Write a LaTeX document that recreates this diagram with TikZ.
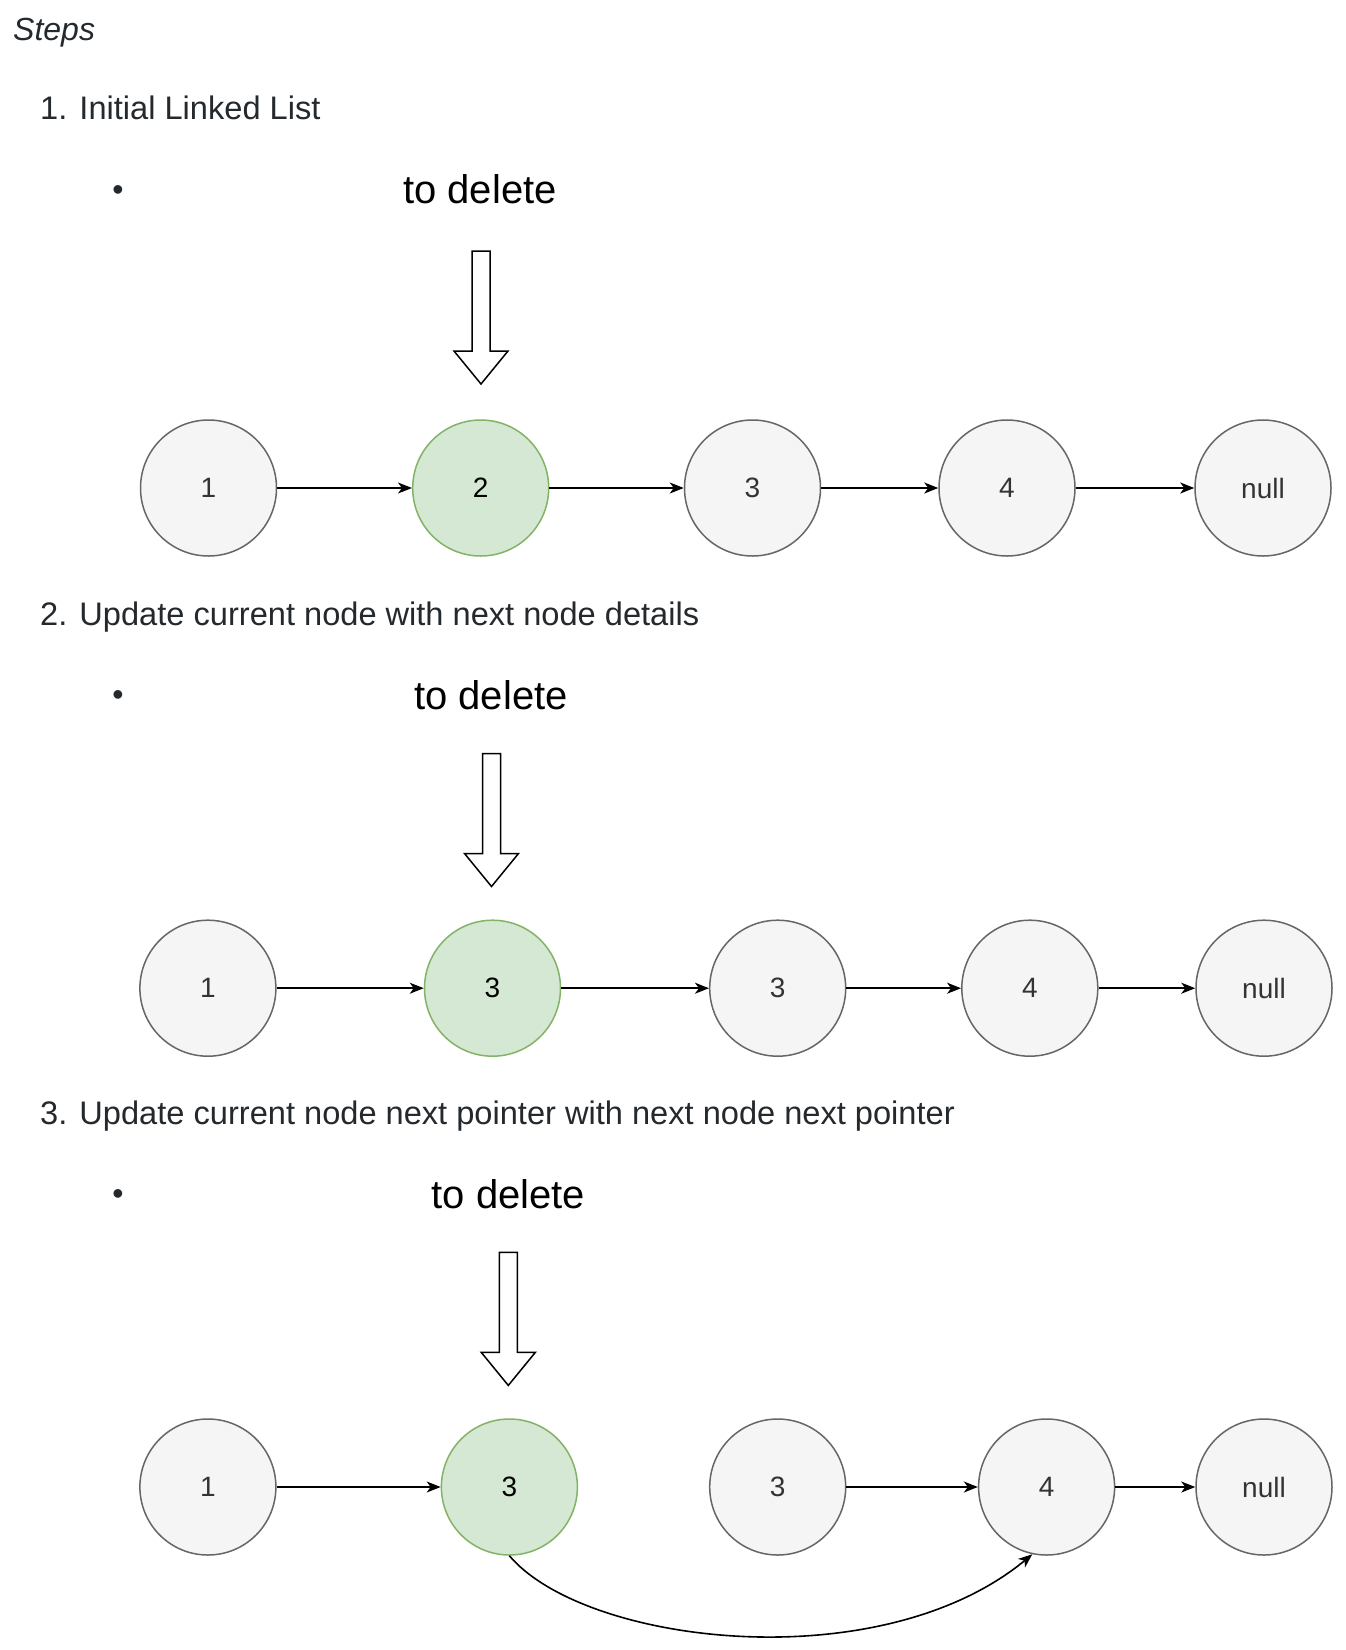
\documentclass[tikz,border=0pt]{standalone}
\usepackage{fontspec}
\setmainfont{Liberation Sans}
\usetikzlibrary{arrows.meta}
\definecolor{txt}{HTML}{24292E}
\definecolor{grayfill}{HTML}{F5F5F5}
\definecolor{graystroke}{HTML}{666666}
\definecolor{grayfont}{HTML}{333333}
\definecolor{greenfill}{HTML}{D5E8D4}
\definecolor{greenstroke}{HTML}{82B366}
\tikzset{
 heading/.style={anchor=base west, inner sep=0, text=txt, font=\fontsize{32.6}{38}\selectfont},
 bulletmark/.style={anchor=base, inner sep=0, text=txt, font=\fontsize{32}{38}\selectfont},
 deltext/.style={anchor=base, inner sep=0, text=black, font=\fontsize{40}{48}\selectfont},
 lnode/.style={circle, draw=graystroke, fill=grayfill, text=grayfont, line width=1.5, minimum size=136, inner sep=0, font=\fontsize{28}{34}\selectfont},
 gnode/.style={lnode, draw=greenstroke, fill=greenfill, text=black},
 link/.style={-{Stealth[length=14,width=11,inset=4]}, line width=1.6, black},
 bigarrow/.style={draw=black, line width=1.5, fill=white, line join=miter},
 bigdown/.pic={\draw[bigarrow] (-9,0) -- (9,0) -- (9,100) -- (27,100) -- (0,133) -- (-27,100) -- (-9,100) -- cycle;},
}
\begin{document}
\begin{tikzpicture}[x=1pt,y=-1pt]
\fill[white] (0,0) rectangle (1346,1650);
\useasboundingbox (0,0) rectangle (1346,1650);

\node[heading, font=\fontsize{32}{38}\selectfont\itshape] (title) at (13,40) {Steps};

% ---- Step 1
\node[heading] (h1) at (40,119.5) {1. Initial Linked List};
\node[bulletmark] (b1) at (118,200) {•};
\node[deltext] (d1) at (480,203.5) {to delete};
\pic at (481,251) {bigdown};
\node[lnode] (a1) at (208.5,488) {1};
\node[gnode] (a2) at (480.7,488) {2};
\node[lnode] (a3) at (752.5,488) {3};
\node[lnode] (a4) at (1007,488) {4};
\node[lnode] (a5) at (1263,488) {null};
\draw[link] (a1) -- (a2);
\draw[link] (a2) -- (a3);
\draw[link] (a3) -- (a4);
\draw[link] (a4) -- (a5);

% ---- Step 2
\node[heading] (h2) at (40,625) {2. Update current node with next node details};
\node[bulletmark] (b2) at (118,705.5) {•};
\node[deltext] (d2) at (491,709) {to delete};
\pic at (491.5,753.5) {bigdown};
\node[lnode] (c1) at (207.9,988.2) {1};
\node[gnode] (c2) at (492.5,988.2) {3};
\node[lnode] (c3) at (777.7,988.2) {3};
\node[lnode] (c4) at (1029.8,988.2) {4};
\node[lnode] (c5) at (1264,988.2) {null};
\draw[link] (c1) -- (c2);
\draw[link] (c2) -- (c3);
\draw[link] (c3) -- (c4);
\draw[link] (c4) -- (c5);

% ---- Step 3
\node[heading] (h3) at (40,1124) {3. Update current node next pointer with next node next pointer};
\node[bulletmark] (b3) at (118,1204.5) {•};
\node[deltext] (d3) at (508.3,1208) {to delete};
\pic at (508.3,1252.4) {bigdown};
\node[lnode] (e1) at (207.9,1487) {1};
\node[gnode] (e2) at (509.4,1487) {3};
\node[lnode] (e3) at (777.7,1487) {3};
\node[lnode] (e4) at (1046.6,1487) {4};
\node[lnode] (e5) at (1264,1487) {null};
\draw[link] (e1) -- (e2);
\draw[link] (e3) -- (e4);
\draw[link] (e4) -- (e5);
\draw[link] (e2.south) .. controls (585,1645) and (880,1680) .. (e4.-102);
\end{tikzpicture}
\end{document}
